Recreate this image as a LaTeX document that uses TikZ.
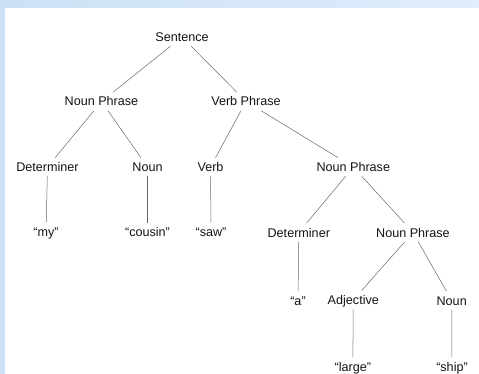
\documentclass[tikz,border=0pt]{standalone}
\usepackage{fontspec}
\setmainfont{Liberation Sans}
\definecolor{bandL}{RGB}{204,225,246}
\definecolor{bandR}{RGB}{224,237,251}
\definecolor{edgegray}{RGB}{105,105,105}
\definecolor{txt}{RGB}{20,20,20}
\begin{document}
\begin{tikzpicture}[x=1pt,y=-1pt,
  lbl/.style={inner xsep=2pt, inner ysep=4.6pt, text height=9pt, text depth=0pt,
    font=\fontsize{12.6}{15}\selectfont, text=txt},
  edge/.style={draw=edgegray, line width=0.5pt}]
\useasboundingbox (0,0) rectangle (479,374);
\fill[bandL] (0,0) rectangle (479,374);
\shade[left color=bandL, right color=bandR] (5,0) rectangle (479,8);
\fill[white] (5,8) rectangle (479,374);
% nodes
\node[lbl] (s)    at (182,37)    {Sentence};
\node[lbl] (np1)  at (101.5,101.5) {Noun Phrase};
\node[lbl] (vp)   at (246,101.5) {Verb Phrase};
\node[lbl] (det1) at (47.5,167)  {Determiner};
\node[lbl] (n1)   at (147.5,167) {Noun};
\node[lbl] (v)    at (210.5,167) {Verb};
\node[lbl] (np2)  at (353.3,167) {Noun Phrase};
\node[lbl] (my)   at (46,232)    {“my”};
\node[lbl] (cous) at (147.5,232) {“cousin”};
\node[lbl] (saw)  at (211,232)   {“saw”};
\node[lbl] (det2) at (298.8,232.5) {Determiner};
\node[lbl] (np3)  at (413,232.5) {Noun Phrase};
\node[lbl] (a)    at (298,300.5) {“a”};
\node[lbl] (adj)  at (353.3,300) {Adjective};
\node[lbl] (n2)   at (451.7,300.5) {Noun};
\node[lbl] (large) at (352.8,366.5) {“large”};
\node[lbl] (ship) at (452,366.5) {“ship”};
% edges
\draw[edge] (s) -- (np1);
\draw[edge] (s) -- (vp);
\draw[edge] (np1) -- (det1);
\draw[edge] (np1) -- (n1);
\draw[edge] (vp) -- (v);
\draw[edge] (vp) -- (np2);
\draw[edge] (det1) -- (my);
\draw[edge] (n1) -- (cous);
\draw[edge] (v) -- (saw);
\draw[edge] (np2) -- (det2);
\draw[edge] (np2) -- (np3);
\draw[edge] (det2) -- (a);
\draw[edge] (np3) -- (adj);
\draw[edge] (np3) -- (n2);
\draw[edge] (adj) -- (large);
\draw[edge] (n2) -- (ship);
\end{tikzpicture}
\end{document}
